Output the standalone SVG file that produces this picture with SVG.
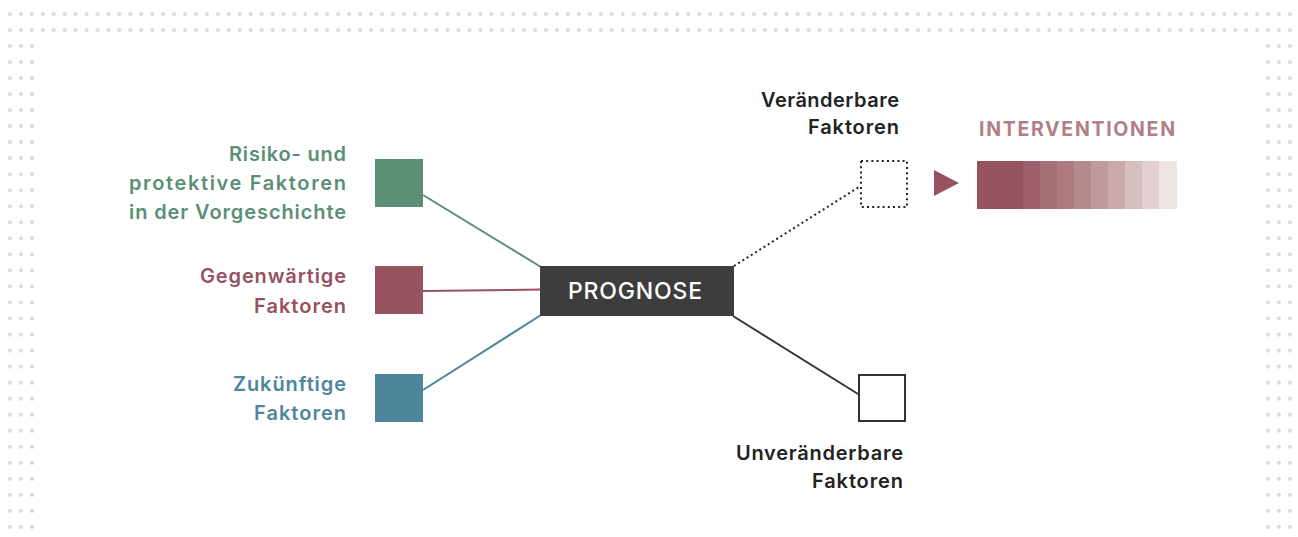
<svg xmlns="http://www.w3.org/2000/svg" width="1298" height="537" viewBox="0 0 1298 537">
<style>
.dots{stroke:#dcdcdc;stroke-width:4.2;stroke-linecap:round;fill:none}
.lbl{font-family:Inter,"Liberation Sans",Arial,sans-serif;font-weight:600;font-size:20px;text-anchor:end}
.g{fill:#5a8f76}.r{fill:#96525f}.b{fill:#4e869c}.d{fill:#222}
</style>
<rect width="1298" height="537" fill="#fff"/>
<g id="dot-border">
<line class="dots" x1="10" y1="14" x2="1290" y2="14" stroke-dasharray="0 10.94"/>
<line class="dots" x1="10" y1="30" x2="1290" y2="30" stroke-dasharray="0 10.94"/>
<line class="dots" x1="10" y1="46" x2="10" y2="527" stroke-dasharray="0 16.03"/>
<line class="dots" x1="21" y1="46" x2="21" y2="527" stroke-dasharray="0 16.03"/>
<line class="dots" x1="32" y1="46" x2="32" y2="527" stroke-dasharray="0 16.03"/>
<line class="dots" x1="1268" y1="46" x2="1268" y2="527" stroke-dasharray="0 16.03"/>
<line class="dots" x1="1279" y1="46" x2="1279" y2="527" stroke-dasharray="0 16.03"/>
<line class="dots" x1="1290" y1="46" x2="1290" y2="527" stroke-dasharray="0 16.03"/>
</g>
<g id="connectors" fill="none" stroke-width="2">
<line x1="423" y1="195" x2="541" y2="267" stroke="#5a8f76"/>
<line x1="423" y1="291" x2="541" y2="289.5" stroke="#96525f"/>
<line x1="423" y1="390" x2="541" y2="315" stroke="#4e869c"/>
<line x1="734" y1="266" x2="859" y2="187" stroke="#222" stroke-dasharray="2 3"/>
<line x1="733" y1="316" x2="858" y2="394" stroke="#333"/>
</g>
<g id="past">
<rect x="375" y="159" width="48" height="48" fill="#5a8f76"/>
<text class="lbl g" x="346" y="161" textLength="117" lengthAdjust="spacing">Risiko- und</text>
<text class="lbl g" x="346" y="190" textLength="217" lengthAdjust="spacing">protektive Faktoren</text>
<text class="lbl g" x="346" y="219" textLength="217" lengthAdjust="spacing">in der Vorgeschichte</text>
</g>
<g id="present">
<rect x="375" y="266" width="48" height="48" fill="#96525f"/>
<text class="lbl r" x="346" y="283" textLength="146" lengthAdjust="spacing">Gegenwärtige</text>
<text class="lbl r" x="346" y="313" textLength="92" lengthAdjust="spacing">Faktoren</text>
</g>
<g id="future">
<rect x="375" y="374" width="48" height="48" fill="#4e869c"/>
<text class="lbl b" x="346" y="391" textLength="113" lengthAdjust="spacing">Zukünftige</text>
<text class="lbl b" x="346" y="420" textLength="92" lengthAdjust="spacing">Faktoren</text>
</g>
<g id="prognose">
<rect x="540" y="266" width="194" height="50" fill="#3d3d3d"/>
<text x="635" y="299" font-family="Inter,Liberation Sans,Arial,sans-serif" font-weight="500" font-size="23" fill="#fff" text-anchor="middle" textLength="134" lengthAdjust="spacing">PROGNOSE</text>
</g>
<g id="changeable">
<rect x="861" y="161" width="46" height="46" fill="none" stroke="#222" stroke-width="2" stroke-dasharray="2 3.2"/>
<text class="lbl d" x="899" y="107" textLength="138" lengthAdjust="spacing">Veränderbare</text>
<text class="lbl d" x="899" y="134" textLength="91" lengthAdjust="spacing">Faktoren</text>
</g>
<g id="unchangeable">
<rect x="859" y="375" width="46" height="46" fill="#fff" stroke="#333" stroke-width="2"/>
<text class="lbl d" x="903" y="460" textLength="167" lengthAdjust="spacing">Unveränderbare</text>
<text class="lbl d" x="903" y="488" textLength="91" lengthAdjust="spacing">Faktoren</text>
</g>
<g id="interventions">
<polygon points="934,170 959,183 934,196" fill="#96525f"/>
<text x="979" y="136" font-family="Inter,Liberation Sans,Arial,sans-serif" font-weight="700" font-size="19.5" fill="#b27f87" textLength="196" lengthAdjust="spacing">INTERVENTIONEN</text>
<rect x="977" y="161" width="46" height="48" fill="#94535f"/>
<rect x="1023" y="161" width="17" height="48" fill="#9b5e6a"/>
<rect x="1040" y="161" width="17" height="48" fill="#a46e75"/>
<rect x="1057" y="161" width="17" height="48" fill="#ad7b80"/>
<rect x="1074" y="161" width="17" height="48" fill="#b6898d"/>
<rect x="1091" y="161" width="17" height="48" fill="#c09a9c"/>
<rect x="1108" y="161" width="17" height="48" fill="#cba9ab"/>
<rect x="1125" y="161" width="17" height="48" fill="#d6bfbf"/>
<rect x="1142" y="161" width="17" height="48" fill="#e2cfcf"/>
<rect x="1159" y="161" width="18" height="48" fill="#f0e4e3"/>
</g>
</svg>
